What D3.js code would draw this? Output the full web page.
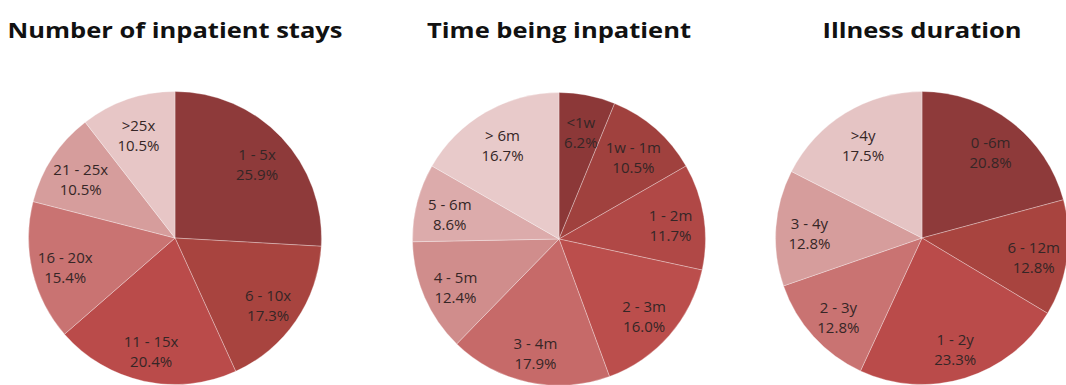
<!DOCTYPE html>
<html>
<head>
<meta charset="utf-8">
<script src="https://cdn.jsdelivr.net/npm/d3@7"></script>
<style>
  html, body { margin: 0; padding: 0; background: #fff; }
  svg { display: block; }
</style>
</head>
<body>
<svg id="chart" width="1066" height="385"></svg>
<script>
// Inpatient history breakdowns (percent of patients)
const titles = ["Number of inpatient stays", "Time being inpatient", "Illness duration"];

const staysLabels = ["1 - 5x", "6 - 10x", "11 - 15x", "16 - 20x", "21 - 25x", ">25x"];
const staysValues = [25.9, 17.3, 20.4, 15.4, 10.5, 10.5];
const staysColors = ["#8e3a3a", "#a8443f", "#ba4b4a", "#c97372", "#d69d9c", "#e7c6c6"];

const timeLabels = ["<1w", "1w - 1m", "1 - 2m", "2 - 3m", "3 - 4m", "4 - 5m", "5 - 6m", "> 6m"];
const timeValues = [6.2, 10.5, 11.7, 16.0, 17.9, 12.4, 8.6, 16.7];
const timeColors = ["#8c3838", "#a0413e", "#b04846", "#bb4e4c", "#c66a69", "#d08d8c", "#dcabab", "#e8caca"];

const durationLabels = ["0 -6m", "6 - 12m", "1 - 2y", "2 - 3y", "3 - 4y", ">4y"];
const durationValues = [20.8, 12.8, 23.3, 12.8, 12.8, 17.5];
const durationColors = ["#8e3a3a", "#a8443f", "#ba4b4a", "#c97372", "#d69d9c", "#e5c4c4"];

const panels = [
  { title: titles[0], labels: staysLabels, values: staysValues, colors: staysColors, cx: 175, cy: 238 },
  { title: titles[1], labels: timeLabels, values: timeValues, colors: timeColors, cx: 559, cy: 239 },
  { title: titles[2], labels: durationLabels, values: durationValues, colors: durationColors, cx: 922, cy: 238 }
];

const svg = d3.select("#chart");
const radius = 146.5;

const pie = d3.pie().sort(null).value(d => d.value);
const arc = d3.arc().innerRadius(0).outerRadius(radius);
const labelArc = d3.arc().innerRadius(radius * 0.77).outerRadius(radius * 0.77);

panels.forEach(p => {
  const data = p.labels.map((label, i) => ({ label, value: p.values[i], color: p.colors[i] }));

  // Title, set in a wide bold face
  svg.append("text")
    .attr("transform", `translate(${p.cx},38) scale(1.16,1)`)
    .attr("text-anchor", "middle")
    .attr("font-family", "'Open Sans', sans-serif")
    .attr("font-weight", 700)
    .attr("font-size", 22)
    .attr("fill", "#111")
    .text(p.title);

  const g = svg.append("g").attr("transform", `translate(${p.cx},${p.cy})`);
  const arcs = pie(data);

  g.selectAll("path")
    .data(arcs)
    .join("path")
    .attr("d", arc)
    .attr("fill", d => d.data.color)
    .attr("stroke", "rgba(255,255,255,0.3)")
    .attr("stroke-width", 1);

  const labels = g.selectAll("text")
    .data(arcs)
    .join("text")
    .attr("transform", d => `translate(${labelArc.centroid(d)})`)
    .attr("text-anchor", "middle")
    .attr("font-family", "'Open Sans', sans-serif")
    .attr("font-size", 15)
    .attr("fill", "#352626");

  labels.append("tspan")
    .attr("x", 0)
    .attr("dy", "-0.05em")
    .text(d => d.data.label);
  labels.append("tspan")
    .attr("x", 0)
    .attr("dy", 20)
    .text(d => d.data.value.toFixed(1) + "%");
});
</script>
</body>
</html>
